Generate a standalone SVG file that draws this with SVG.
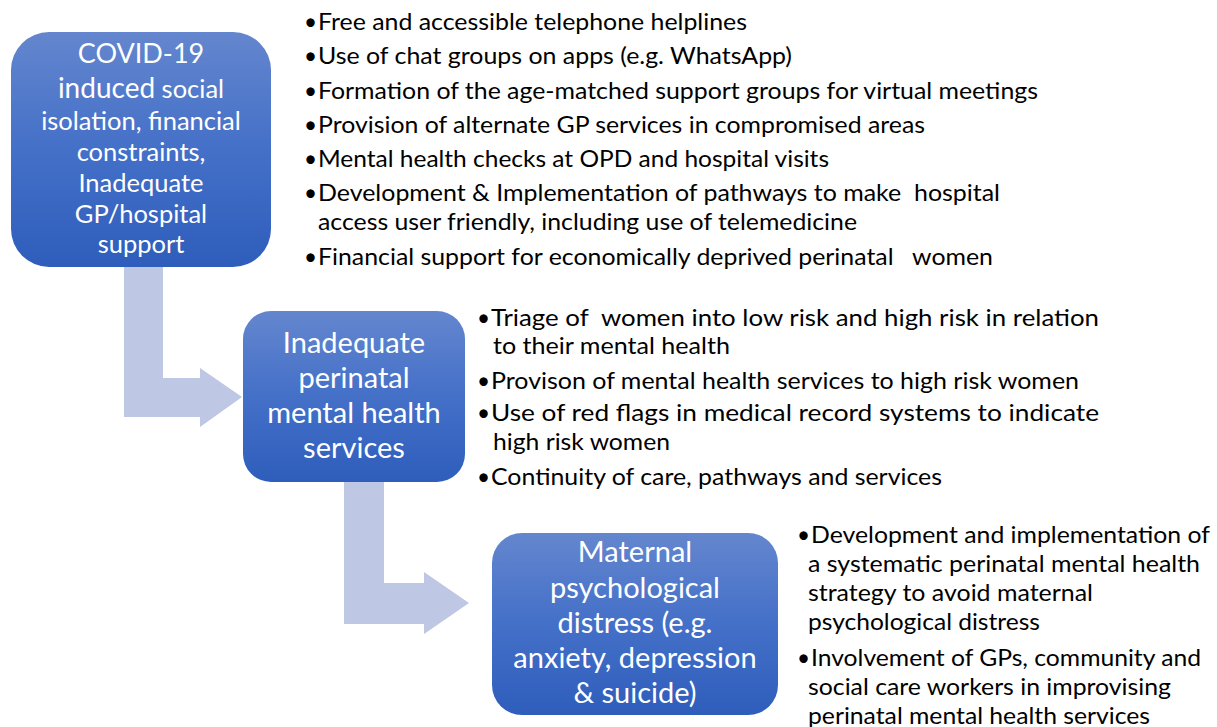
<svg xmlns="http://www.w3.org/2000/svg" width="1217" height="727" viewBox="0 0 1217 727">
  <defs>
    <linearGradient id="boxFill" x1="0" y1="0" x2="0" y2="1">
      <stop offset="0" stop-color="#6486ce"/>
      <stop offset="0.5" stop-color="#4470c8"/>
      <stop offset="1" stop-color="#2e5dbb"/>
    </linearGradient>
    <style>
      .box { fill: url(#boxFill); }
      .arrow { fill: #bec7e3; }
      .ntext { font-family: Lato, "Liberation Sans", sans-serif; fill: #ffffff; text-anchor: middle; }
      .big { font-size: 29px; }
      .head { font-size: 27px; }
      .mid { font-size: 25.5px; }
      .bul { font-family: Lato, "Liberation Sans", sans-serif; font-size: 22.5px; fill: #000000; white-space: pre; }
    </style>
  </defs>

  <rect width="1217" height="727" fill="#ffffff"/>

  <!-- bent block arrows linking the stages -->
  <g id="connectors">
    <path class="arrow" d="M124,267 H163 V378 H200 V368 L242,397 L200,427 V417 H124 Z"/>
    <path class="arrow" d="M344,482 H384 V583 H424 V572 L469,603 L424,634 V624 H344 Z"/>
  </g>

  <!-- stage 1 -->
  <g id="node-covid">
    <rect class="box" x="11" y="32" width="260" height="235" rx="38" ry="38"/>
    <text class="ntext head" x="141" y="63">COVID-19</text>
    <text class="ntext" x="141" y="98"><tspan style="font-size:28px">induced</tspan><tspan class="mid"> social</tspan></text>
    <text class="ntext mid" x="141" y="130">isolation, financial</text>
    <text class="ntext mid" x="141" y="161">constraints,</text>
    <text class="ntext mid" x="141" y="192">Inadequate</text>
    <text class="ntext mid" x="141" y="223">GP/hospital</text>
    <text class="ntext mid" x="141" y="253">support</text>
  </g>

  <g id="list-covid">
    <text class="bul" x="304" y="30">•</text><text class="bul" x="318" y="30" textLength="429" lengthAdjust="spacingAndGlyphs">Free and accessible telephone helplines</text>
    <text class="bul" x="304" y="64">•</text><text class="bul" x="318" y="64" textLength="474" lengthAdjust="spacingAndGlyphs">Use of chat groups on apps (e.g. WhatsApp)</text>
    <text class="bul" x="304" y="99">•</text><text class="bul" x="318" y="99" textLength="720" lengthAdjust="spacingAndGlyphs">Formation of the age-matched support groups for virtual meetings</text>
    <text class="bul" x="304" y="133">•</text><text class="bul" x="318" y="133" textLength="607" lengthAdjust="spacingAndGlyphs">Provision of alternate GP services in compromised areas</text>
    <text class="bul" x="304" y="167">•</text><text class="bul" x="318" y="167" textLength="511" lengthAdjust="spacingAndGlyphs">Mental health checks at OPD and hospital visits</text>
    <text class="bul" x="304" y="201">•</text><text class="bul" x="318" y="201" textLength="682" lengthAdjust="spacingAndGlyphs">Development &amp; Implementation of pathways to make  hospital</text>
    <text class="bul" x="318" y="230" textLength="539" lengthAdjust="spacingAndGlyphs">access user friendly, including use of telemedicine</text>
    <text class="bul" x="304" y="265">•</text><text class="bul" x="318" y="265" textLength="675" lengthAdjust="spacingAndGlyphs">Financial support for economically deprived perinatal   women</text>
  </g>

  <!-- stage 2 -->
  <g id="node-services">
    <rect class="box" x="243" y="311" width="222" height="171" rx="28" ry="28"/>
    <text class="ntext big" x="354" y="353">Inadequate</text>
    <text class="ntext big" x="354" y="388">perinatal</text>
    <text class="ntext big" x="354" y="423">mental health</text>
    <text class="ntext big" x="354" y="458">services</text>
  </g>

  <g id="list-services">
    <text class="bul" x="477" y="326">•</text><text class="bul" x="491" y="326" textLength="608" lengthAdjust="spacingAndGlyphs">Triage of  women into low risk and high risk in relation</text>
    <text class="bul" x="493" y="354" textLength="237" lengthAdjust="spacingAndGlyphs">to their mental health</text>
    <text class="bul" x="477" y="389">•</text><text class="bul" x="491" y="389" textLength="588" lengthAdjust="spacingAndGlyphs">Provison of mental health services to high risk women</text>
    <text class="bul" x="477" y="421">•</text><text class="bul" x="491" y="421" textLength="608" lengthAdjust="spacingAndGlyphs">Use of red flags in medical record systems to indicate</text>
    <text class="bul" x="493" y="450" textLength="177" lengthAdjust="spacingAndGlyphs">high risk women</text>
    <text class="bul" x="477" y="485">•</text><text class="bul" x="491" y="485" textLength="451" lengthAdjust="spacingAndGlyphs">Continuity of care, pathways and services</text>
  </g>

  <!-- stage 3 -->
  <g id="node-distress">
    <rect class="box" x="492" y="533" width="286" height="182" rx="30" ry="30"/>
    <text class="ntext big" x="635" y="562">Maternal</text>
    <text class="ntext big" x="635" y="598">psychological</text>
    <text class="ntext big" x="635" y="633">distress (e.g.</text>
    <text class="ntext big" x="635" y="668">anxiety, depression</text>
    <text class="ntext big" x="635" y="703">&amp; suicide)</text>
  </g>

  <g id="list-distress">
    <text class="bul" x="797" y="543">•</text><text class="bul" x="811" y="543" textLength="399" lengthAdjust="spacingAndGlyphs">Development and implementation of</text>
    <text class="bul" x="808" y="572" textLength="392" lengthAdjust="spacingAndGlyphs">a systematic perinatal mental health</text>
    <text class="bul" x="808" y="601" textLength="285" lengthAdjust="spacingAndGlyphs">strategy to avoid maternal</text>
    <text class="bul" x="808" y="630" textLength="232" lengthAdjust="spacingAndGlyphs">psychological distress</text>
    <text class="bul" x="797" y="666">•</text><text class="bul" x="811" y="666" textLength="390" lengthAdjust="spacingAndGlyphs">Involvement of GPs, community and</text>
    <text class="bul" x="808" y="695" textLength="363" lengthAdjust="spacingAndGlyphs">social care workers in improvising</text>
    <text class="bul" x="808" y="724" textLength="342" lengthAdjust="spacingAndGlyphs">perinatal mental health services</text>
  </g>
</svg>
